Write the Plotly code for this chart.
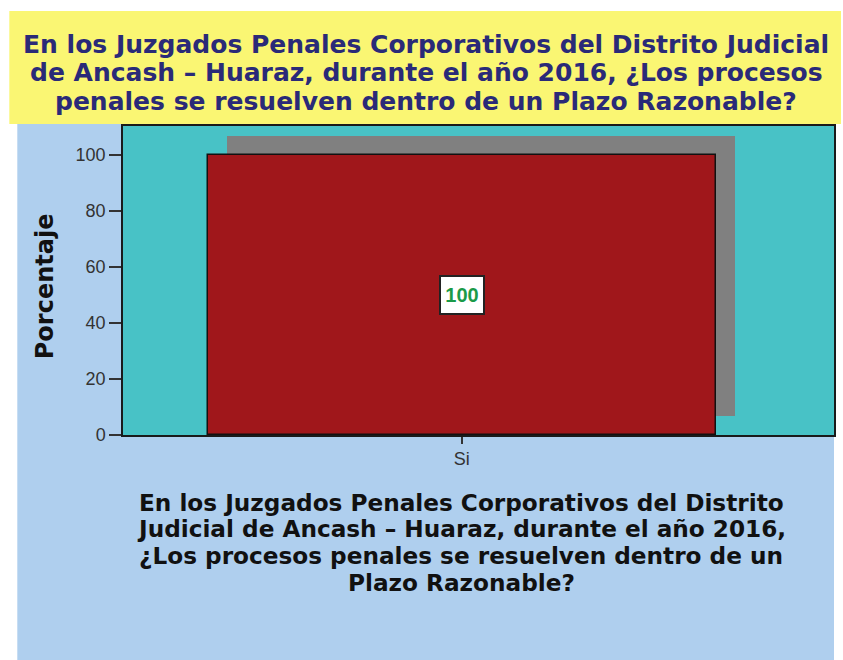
import plotly.graph_objects as go

categories = ["Si"]
percentages = [100]
y_ticks = [0, 20, 40, 60, 80, 100]

title_lines = ["En los Juzgados Penales Corporativos del Distrito Judicial",
               "de Ancash – Huaraz, durante el año 2016, ¿Los procesos",
               "penales se resuelven dentro de un Plazo Razonable?"]
xtitle_lines = ["En los Juzgados Penales Corporativos del Distrito",
                "Judicial de Ancash – Huaraz, durante el año 2016,",
                "¿Los procesos penales se resuelven dentro de un",
                "Plazo Razonable?"]
ytitle = "Porcentaje"

W, H = 843, 660
plot_left, plot_right, plot_top, plot_bottom = 123, 836, 126, 435
L = plot_left
R = W - plot_right
T = plot_top
B = H - plot_bottom
pw, ph = plot_right - plot_left, plot_bottom - plot_top

def px(x):
    return (x - plot_left) / pw

def py(y):
    return (plot_bottom - y) / ph

y_max = 110.4
x_lo, x_hi = -0.667, 0.733
shadow_dx = 19 / pw * (x_hi - x_lo)
shadow_dy = 19 / ph * y_max

FONT = "DejaVu Sans"

fig = go.Figure()
fig.add_trace(go.Bar(
    x=categories, y=percentages, base=[shadow_dy] * len(percentages),
    width=1.0, offset=-0.5 + shadow_dx,
    marker=dict(color="#808080", line=dict(width=0)),
    hoverinfo="skip", showlegend=False))
fig.add_trace(go.Bar(
    x=categories, y=percentages, width=1.0,
    marker=dict(color="#A0171B", line=dict(color="#111111", width=1.5)),
    showlegend=False))

for c, v in zip(categories, percentages):
    fig.add_annotation(x=c, y=v / 2, xref="x", yref="y", text=f"<b>{v}</b>",
                       showarrow=False, width=36, height=30,
                       font=dict(family="Liberation Sans, Arial", size=20, color="#1B9A48"),
                       bgcolor="white", bordercolor="#222222", borderwidth=2, borderpad=3)

# background panels
fig.add_shape(type="rect", xref="paper", yref="paper", x0=px(17), x1=px(836), y0=py(660), y1=py(124),
              fillcolor="#AFCFEE", line=dict(width=0), layer="below")
fig.add_shape(type="rect", xref="paper", yref="paper", x0=px(9), x1=px(843), y0=py(124), y1=py(11),
              fillcolor="#FAF673", line=dict(width=0), layer="below")
fig.add_shape(type="rect", xref="paper", yref="paper", x0=0, x1=1, y0=0, y1=1,
              fillcolor="#48C2C6", line=dict(width=0), layer="below")

for i, line in enumerate(title_lines):
    fig.add_annotation(xref="paper", yref="paper", x=px(427), y=py(44.5 + 28.5 * i), text=f"<b>{line}</b>",
                       showarrow=False, xanchor="center", yanchor="middle",
                       font=dict(family=FONT, size=25, color="#2A2A78"))
for i, line in enumerate(xtitle_lines):
    fig.add_annotation(xref="paper", yref="paper", x=px(462), y=py(502 + 26.7 * i), text=f"<b>{line}</b>",
                       showarrow=False, xanchor="center", yanchor="middle",
                       font=dict(family=FONT, size=23.2, color="#111111"))
fig.add_annotation(xref="paper", yref="paper", x=px(45), y=py(286), text=f"<b>{ytitle}</b>",
                   showarrow=False, textangle=-90, xanchor="center", yanchor="middle",
                   font=dict(family=FONT, size=24, color="#111111"))

fig.update_layout(
    width=W, height=H, margin=dict(l=L, r=R, t=T, b=B),
    paper_bgcolor="white", plot_bgcolor="#48C2C6",
    barmode="overlay", bargap=0,
    font=dict(family="Liberation Sans, Arial", size=18, color="#333333"),
    xaxis=dict(type="category", range=[x_lo, x_hi], showgrid=False, zeroline=False,
               showline=True, linecolor="#1a1a1a", linewidth=1.5, mirror=True,
               ticks="outside", ticklen=7, tickcolor="#333333", tickwidth=1.5,
               tickfont=dict(size=18, color="#333333")),
    yaxis=dict(range=[0, y_max], tickvals=y_ticks, showgrid=False, zeroline=False,
               showline=True, linecolor="#1a1a1a", linewidth=1.5, mirror=True,
               ticks="outside", ticklen=12, tickcolor="#333333", tickwidth=1.5,
               tickfont=dict(size=18, color="#333333")),
)

fig.write_html("out.html", config={"displayModeBar": False},
               post_script="document.body.style.margin='0px';document.body.style.overflow='hidden';")
